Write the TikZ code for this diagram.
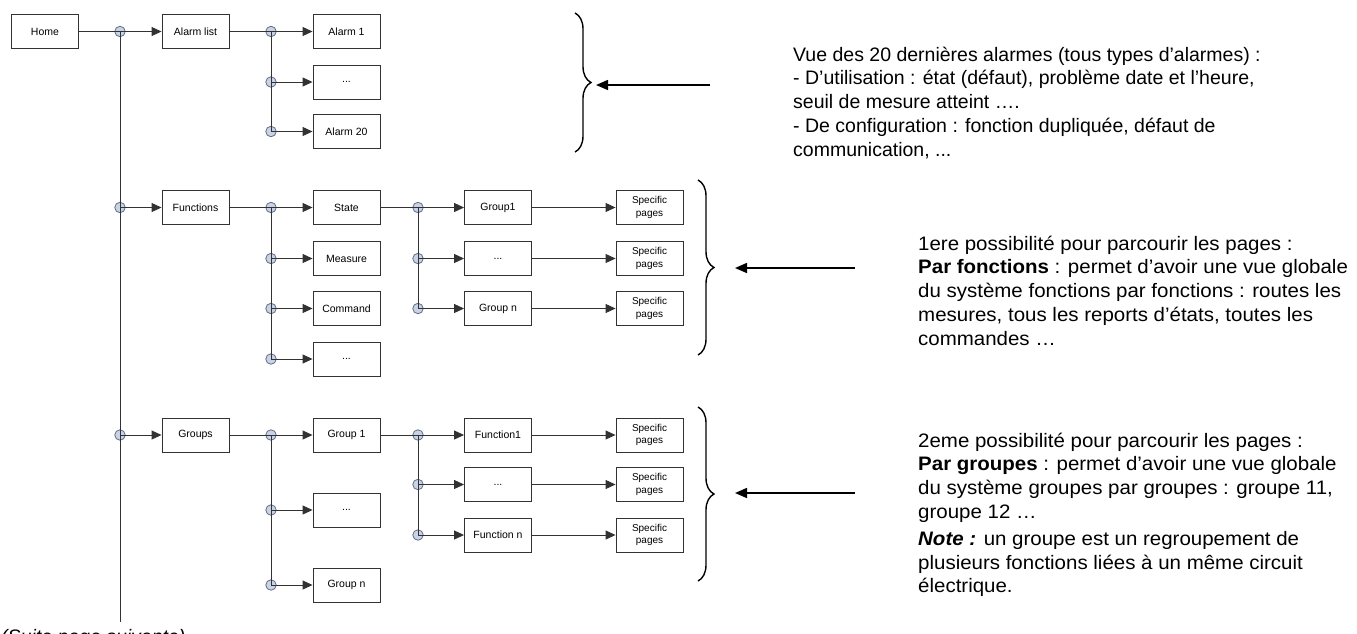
\documentclass[tikz,border=0pt]{standalone}
\usepackage{fontspec}
\setmainfont{Liberation Sans}
\newfontfamily\descwide[FakeStretch=1.05]{Liberation Sans}
\usetikzlibrary{arrows.meta,decorations.pathreplacing}
\definecolor{jfill}{RGB}{200,211,232}
\definecolor{jdraw}{RGB}{100,110,130}
\definecolor{lcol}{RGB}{50,50,50}
\tikzset{
  box/.style={draw=black!80, line width=0.9pt, fill=white, minimum width=67pt, minimum height=34pt, inner sep=0pt, font=\fontsize{10.5}{12.5}\selectfont, align=center},
  sbox/.style={box, font=\fontsize{10}{12.5}\selectfont},
  jn/.style={circle, draw=jdraw, fill=jfill, line width=0.8pt, minimum size=10.5pt, inner sep=0pt},
  ln/.style={draw=lcol, line width=1pt},
  arr/.style={ln, -{Triangle[length=10pt,width=9pt]}},
  brc/.style={draw=black, line width=1.4pt, decorate, decoration={brace, amplitude=16pt}},
  callout/.style={draw=black, line width=1.6pt, -{Triangle[length=12pt,width=10pt]}},
  desc/.style={anchor=base west, inner sep=0pt, align=left, font=\fontsize{19.5}{23.8}\selectfont},
  descw/.style={desc, font=\descwide\fontsize{19.5}{23.8}\selectfont}
}
\begin{document}
\begin{tikzpicture}[x=1pt,y=-1pt]
\useasboundingbox (0,0) rectangle (1357,633);
% boxes
\node[box] (home) at (45,31.5) {Home};
\node[box] (alarm) at (195.5,31.5) {Alarm list};
\node[box] (a1) at (346.5,31.5) {Alarm 1};
\node[box] (a2) at (346.5,82) {...};
\node[box] (a20) at (346.5,131.5) {Alarm 20};
\node[box] (func) at (195.5,207.5) {Functions};
\node[box] (state) at (346.5,207.5) {State};
\node[box] (meas) at (346.5,258.5) {Measure};
\node[box] (comm) at (346.5,308.5) {Command};
\node[box] (fdots) at (346.5,359) {...};
\node[box] (grp1) at (498,207.5) {Group1};
\node[box] (grpd) at (498,258.5) {...};
\node[box] (grpn) at (498,308.5) {Group n};
\node[sbox] (sp1) at (649.5,207.5) {Specific\\pages};
\node[sbox] (sp2) at (649.5,258.5) {Specific\\pages};
\node[sbox] (sp3) at (649.5,308.5) {Specific\\pages};
\node[box] (groups) at (195.5,435) {Groups};
\node[box] (g1) at (346.5,435) {Group 1};
\node[box] (gd) at (346.5,510) {...};
\node[box] (gn) at (346.5,585) {Group n};
\node[box] (fn1) at (498,435) {Function1};
\node[box] (fnd) at (498,484.5) {...};
\node[box] (fnn) at (498,535) {Function n};
\node[sbox] (sp4) at (649.5,435) {Specific\\pages};
\node[sbox] (sp5) at (649.5,484.5) {Specific\\pages};
\node[sbox] (sp6) at (649.5,535) {Specific\\pages};
% junctions
\node[jn] (j0) at (120,31.5) {};
\node[jn] (jF) at (120,207.5) {};
\node[jn] (jG) at (120,435) {};
\coordinate (jend) at (120,622);
\node[jn] (ja1) at (271,31.5) {};
\node[jn] (ja2) at (271,82) {};
\node[jn] (ja3) at (271,131.5) {};
\node[jn] (jf1) at (271,207.5) {};
\node[jn] (jf2) at (271,258.5) {};
\node[jn] (jf3) at (271,308.5) {};
\node[jn] (jf4) at (271,359) {};
\node[jn] (js1) at (418,207.5) {};
\node[jn] (js2) at (418,258.5) {};
\node[jn] (js3) at (418,308.5) {};
\node[jn] (jg1) at (271,435) {};
\node[jn] (jg2) at (271,510) {};
\node[jn] (jg3) at (271,585) {};
\node[jn] (jh1) at (418,435) {};
\node[jn] (jh2) at (418,484.5) {};
\node[jn] (jh3) at (418,535) {};
% trunk
\draw[ln] (home) -- (j0.center);
\draw[arr] (j0.center) -- (alarm);
\draw[ln] (j0.center) -- (jend);
\draw[arr] (jF.center) -- (func);
\draw[arr] (jG.center) -- (groups);
% alarms
\draw[ln] (alarm) -- (ja1.center);
\draw[ln] (ja1.center) -- (ja3.center);
\draw[arr] (ja1.center) -- (a1);
\draw[arr] (ja2.center) -- (a2);
\draw[arr] (ja3.center) -- (a20);
% functions
\draw[ln] (func) -- (jf1.center);
\draw[ln] (jf1.center) -- (jf4.center);
\draw[arr] (jf1.center) -- (state);
\draw[arr] (jf2.center) -- (meas);
\draw[arr] (jf3.center) -- (comm);
\draw[arr] (jf4.center) -- (fdots);
\draw[ln] (state) -- (js1.center);
\draw[ln] (js1.center) -- (js3.center);
\draw[arr] (js1.center) -- (grp1);
\draw[arr] (js2.center) -- (grpd);
\draw[arr] (js3.center) -- (grpn);
\draw[arr] (grp1) -- (sp1);
\draw[arr] (grpd) -- (sp2);
\draw[arr] (grpn) -- (sp3);
% groups
\draw[ln] (groups) -- (jg1.center);
\draw[ln] (jg1.center) -- (jg3.center);
\draw[arr] (jg1.center) -- (g1);
\draw[arr] (jg2.center) -- (gd);
\draw[arr] (jg3.center) -- (gn);
\draw[ln] (g1) -- (jh1.center);
\draw[ln] (jh1.center) -- (jh3.center);
\draw[arr] (jh1.center) -- (fn1);
\draw[arr] (jh2.center) -- (fnd);
\draw[arr] (jh3.center) -- (fnn);
\draw[arr] (fn1) -- (sp4);
\draw[arr] (fnd) -- (sp5);
\draw[arr] (fnn) -- (sp6);
% braces
\coordinate (b1t) at (575,13); \coordinate (b1b) at (575,152);
\coordinate (b2t) at (698,180); \coordinate (b2b) at (698,355);
\coordinate (b3t) at (698,407); \coordinate (b3b) at (698,581);
\draw[brc] (b1t) -- (b1b);
\draw[brc] (b2t) -- (b2b);
\draw[brc] (b3t) -- (b3b);
% callout arrows
\coordinate (c1s) at (710,85); \coordinate (c1e) at (596,85);
\coordinate (c2s) at (855,268); \coordinate (c2e) at (735,268);
\coordinate (c3s) at (855,493); \coordinate (c3e) at (735,493);
\draw[callout] (c1s) -- (c1e);
\draw[callout] (c2s) -- (c2e);
\draw[callout] (c3s) -- (c3e);
% descriptions (anchored at the baseline of their last line)
\node[desc] (d1) at (793,156.2) {Vue des 20 dernières alarmes (tous types d’alarmes) :\\- D’utilisation : état (défaut), problème date et l'heure,\\seuil de mesure atteint ….\\- De configuration : fonction dupliquée, défaut de\\communication, ...};
\node[descw] (d2) at (918,345.2) {1ere possibilité pour parcourir les pages :\\\textbf{Par fonctions} : permet d’avoir une vue globale\\du système fonctions par fonctions : routes les\\mesures, tous les reports d’états, toutes les\\commandes …};
\node[descw] (d3) at (918,592.8) {2eme possibilité pour parcourir les pages :\\\textbf{Par groupes} : permet d’avoir une vue globale\\du système groupes par groupes : groupe 11,\\groupe 12 …\\[3pt]\textbf{\itshape Note :} un groupe est un regroupement de\\plusieurs fonctions liées à un même circuit\\électrique.};
\node[anchor=base west, inner sep=0pt, font=\fontsize{19.5}{22}\itshape] (suite) at (1,643) {(Suite page suivante)};
\end{tikzpicture}
\end{document}
